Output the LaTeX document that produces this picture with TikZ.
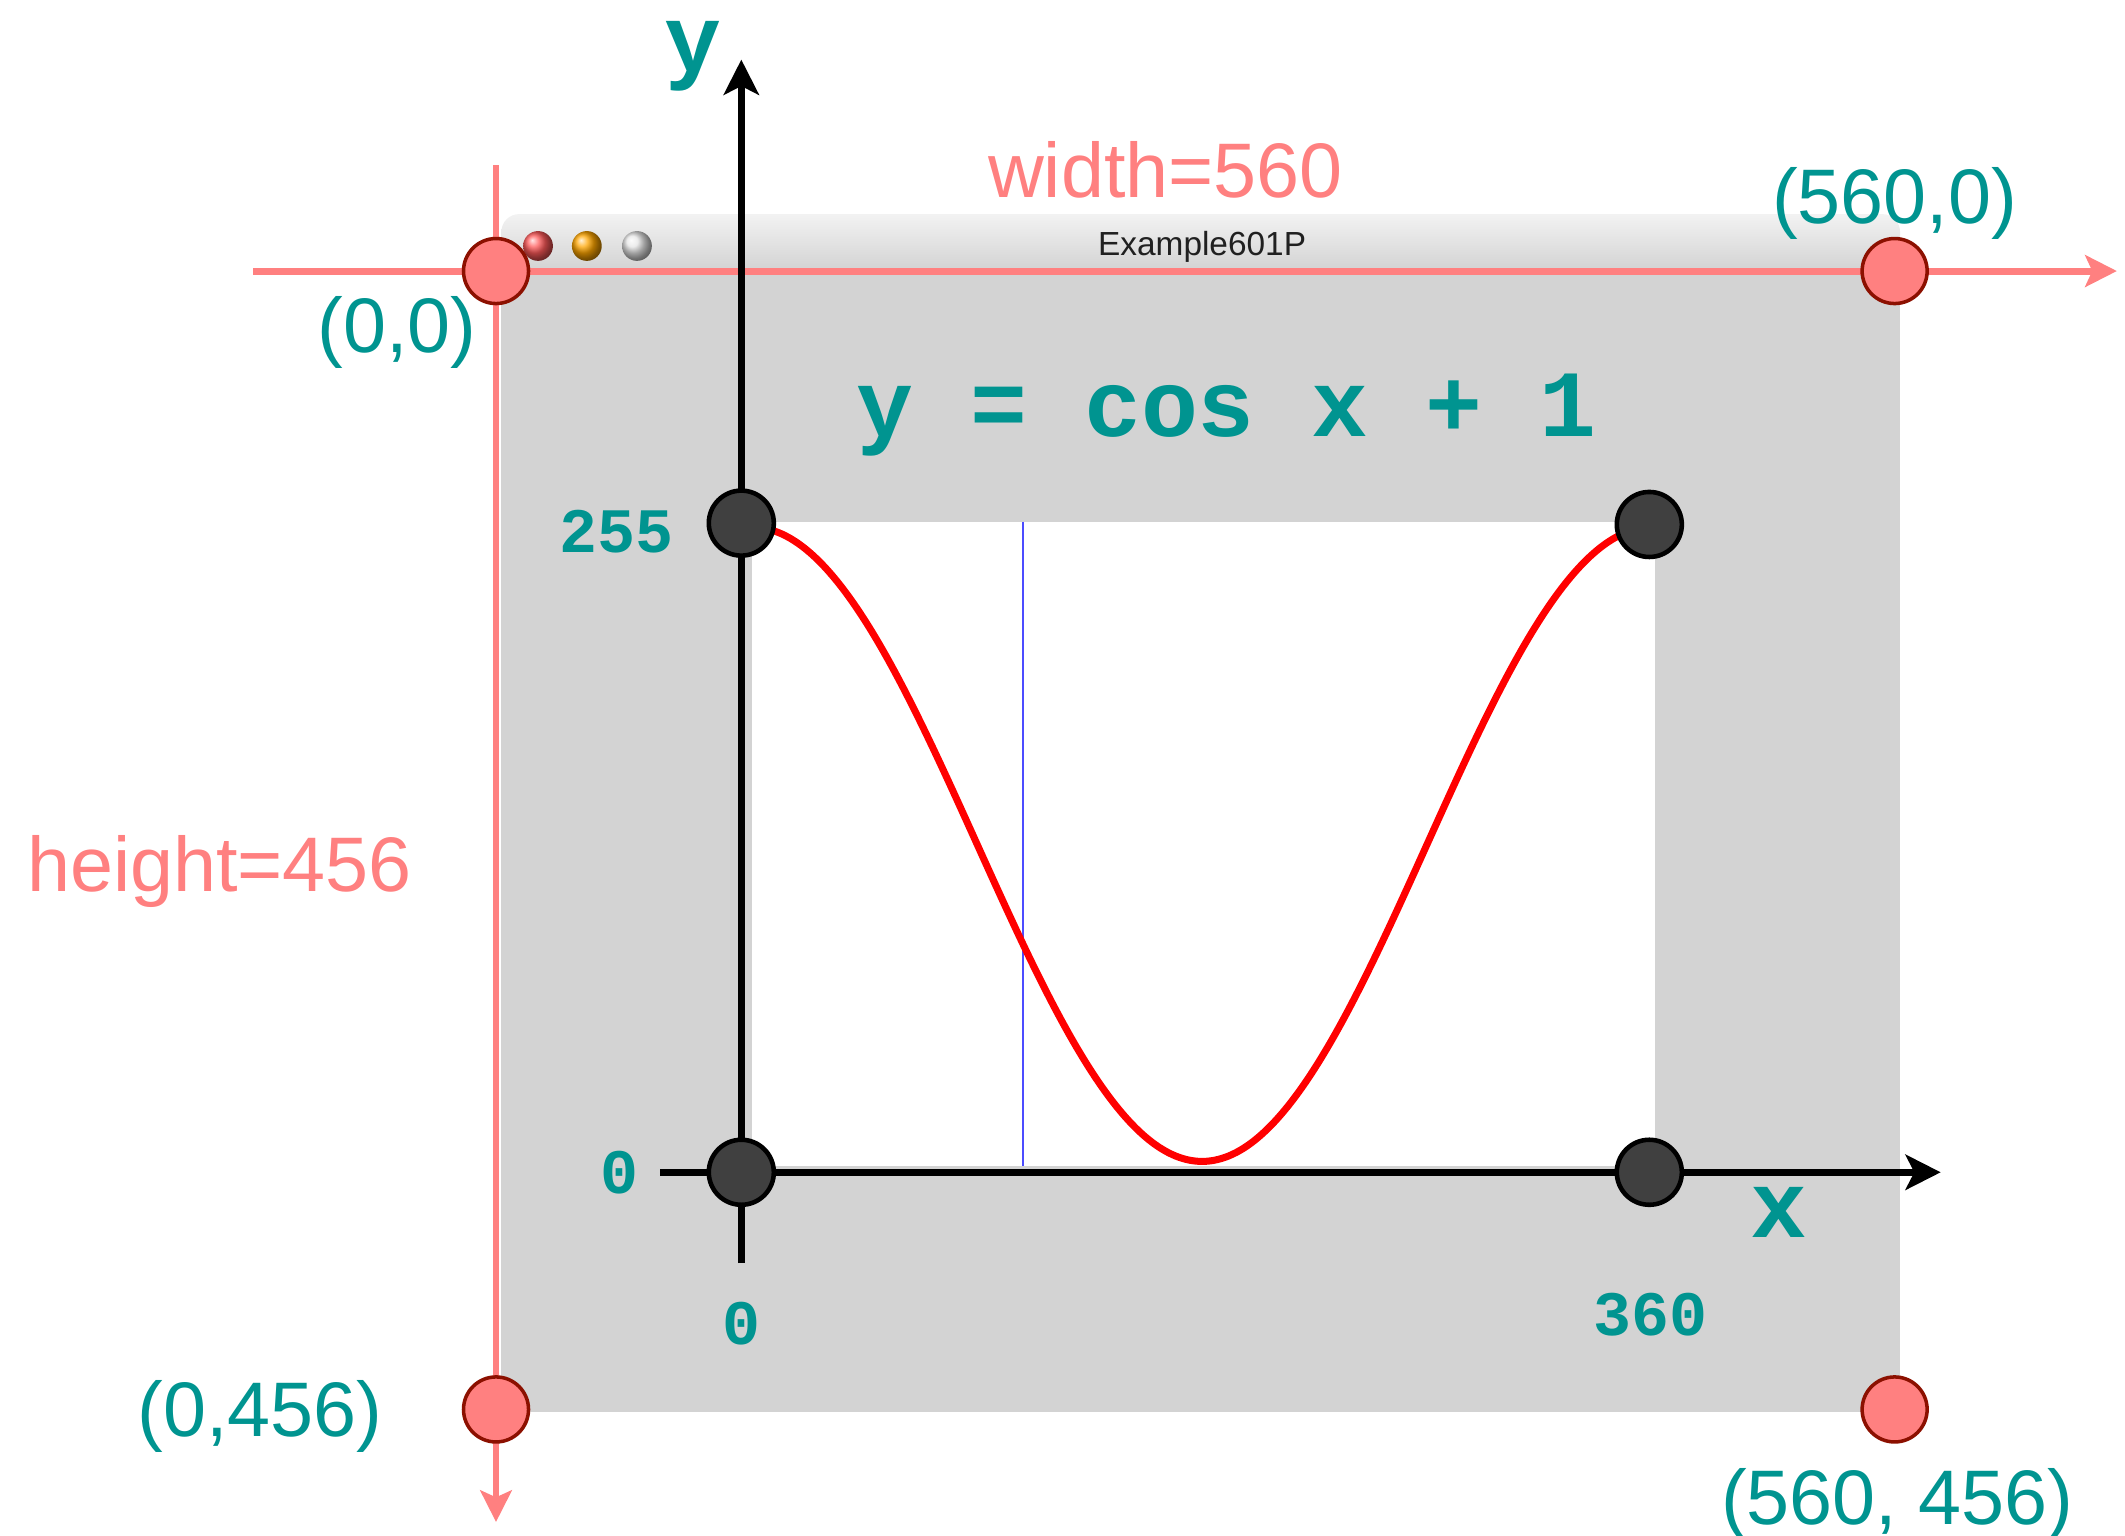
\documentclass[tikz,border=0pt]{standalone}
\usepackage{fontspec}
\setmainfont{Liberation Sans}
\setmonofont{Liberation Mono}
\usetikzlibrary{arrows.meta}
\definecolor{salmon}{RGB}{255,128,128}
\definecolor{darkred}{RGB}{140,16,0}
\definecolor{tealtxt}{RGB}{0,148,144}
\definecolor{wingray}{RGB}{211,211,211}
\definecolor{knob}{RGB}{64,64,64}
\newcommand{\tealtext}[1]{{\color{tealtxt}#1}}
\newcommand{\salmontext}[1]{{\color{salmon}#1}}
\newcommand{\bigsans}{\fontsize{22}{26}\selectfont}
\newcommand{\bigmono}{\fontsize{27}{32}\selectfont\ttfamily\bfseries}
\newcommand{\smallmono}{\fontsize{18}{22}\selectfont\ttfamily\bfseries}
\tikzset{
  redpt/.style={circle, fill=salmon, draw=darkred, line width=1pt, minimum size=18.5pt, inner sep=0pt},
  darkpt/.style={circle, fill=knob, draw=black, line width=1.3pt, minimum size=18.5pt, inner sep=0pt},
  redaxis/.style={salmon, line width=2pt, -{Stealth[length=9pt,width=9pt,inset=2pt]}},
  blackaxis/.style={black, line width=2pt, -{Stealth[length=10pt,width=10pt,inset=2.5pt]}},
  lbl/.style={inner sep=0pt},
}

\begin{document}
\begin{tikzpicture}[x=0.013552cm, y=-0.013552cm]
    \useasboundingbox (0,0) rectangle (1568,1133);
    % window
    \shade[top color=gray!10, bottom color=gray!42, rounded corners=5pt] (370,158) rectangle (1402,212);
    \fill[wingray] (370,200) rectangle (1402,1042);
    \fill[white] (555,385) rectangle (1221,860);
    \shade[ball color=red!65!white] (397,181.5) circle (11);
    \shade[ball color=orange!70!yellow] (433,181.5) circle (11);
    \shade[ball color=gray!20] (470,181.5) circle (11);
    \node[lbl, text=gray!25!black, font=\fontsize{9.5}{11}\selectfont] (wintitle) at (887,182) {Example601P};

    % sketch
    \coordinate (bluetop) at (755,385);
    \coordinate (bluebot) at (755,860);
    \draw[blue!70!white, line width=0.6pt] (bluetop) -- (bluebot);
    \draw[red, line width=2pt, domain=0:360, samples=120, smooth, variable=\t]
      plot ({555+1.84444*\t}, {857-234*(cos(\t)+1)});

    % window coordinates
    \coordinate (hleft) at (187,200);
    \coordinate (hright) at (1562,200);
    \coordinate (vtop) at (366,122);
    \coordinate (vbot) at (366,1123);
    \draw[redaxis] (hleft) -- (hright);
    \draw[redaxis, line width=1.5pt] (vtop) -- (vbot);

    % graph axes
    \coordinate (yfoot) at (547,932);
    \coordinate (ytip) at (547,44);
    \coordinate (xfoot) at (487,865);
    \coordinate (xtip) at (1432,865);
    \draw[blackaxis] (yfoot) -- (ytip);
    \draw[blackaxis] (xfoot) -- (xtip);

    \node[redpt] (orig) at (366,200) {};
    \node[redpt] (wcorner) at (1398,200) {};
    \node[redpt] (hcorner) at (366,1040) {};
    \node[redpt] (whcorner) at (1398,1040) {};
    \node[darkpt] (lefttop) at (547,386) {};
    \node[darkpt] (righttop) at (1217,387) {};
    \node[darkpt] (leftbot) at (547,865) {};
    \node[darkpt] (rightbot) at (1217,865) {};

    \node[lbl, font=\bigsans] (wlabel) at (860,125) {\salmontext{width=560}};
    \node[lbl, font=\bigsans] (hlabel) at (162,643) {\salmontext{height=456}};
    \node[lbl, font=\bigsans] (origlabel) at (293,245) {\tealtext{(0,0)}};
    \node[lbl, font=\bigsans] (wlabel2) at (1398,150) {\tealtext{(560,0)}};
    \node[lbl, font=\bigsans] (hlabel2) at (192,1045) {\tealtext{(0,456)}};
    \node[lbl, font=\bigsans] (whlabel) at (1400,1110) {\tealtext{(560, 456)}};

    \node[lbl, font=\bigmono, anchor=base] (formula) at (905,322) {\tealtext{y = cos x + 1}};
    \node[lbl, font=\bigmono, anchor=base] (ylabel) at (511,53) {\tealtext{y}};
    \node[lbl, font=\bigmono, anchor=base] (xlabel) at (1313,913) {\tealtext{x}};
    \node[lbl, font=\smallmono] (ymax) at (455,392) {\tealtext{255}};
    \node[lbl, font=\smallmono] (ymin) at (457,865) {\tealtext{0}};
    \node[lbl, font=\smallmono] (xmin) at (547,977) {\tealtext{0}};
    \node[lbl, font=\smallmono] (xmax) at (1218,970) {\tealtext{360}};
  \end{tikzpicture}
\end{document}
